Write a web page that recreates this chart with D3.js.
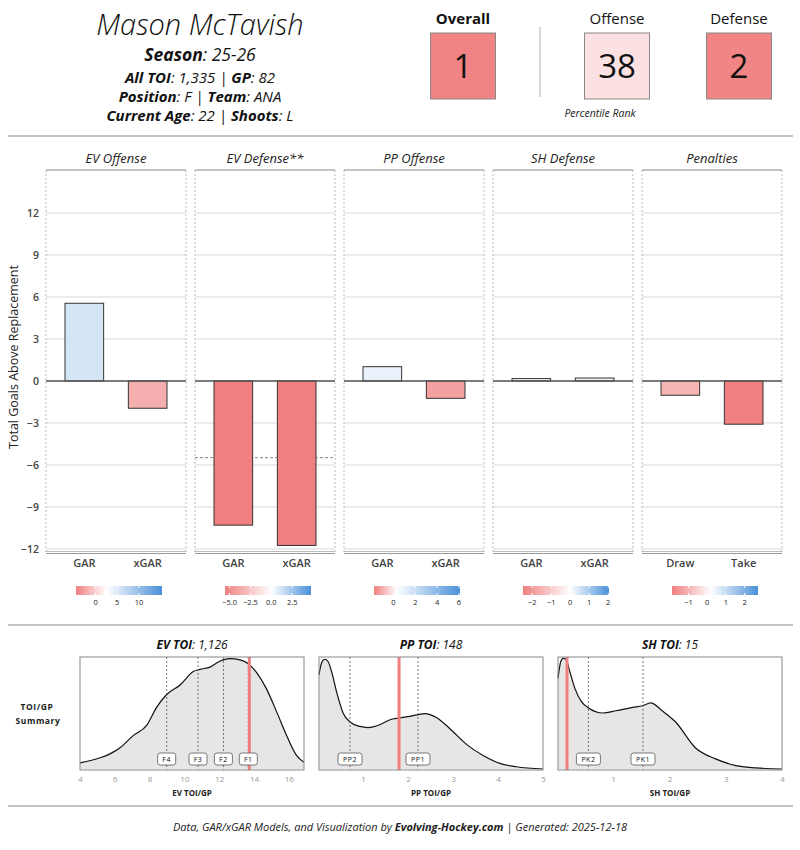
<!DOCTYPE html>
<html>
<head>
<meta charset="utf-8">
<script src="https://cdn.jsdelivr.net/npm/d3@7"></script>
<style>
  body { margin: 0; background: #fff; }
  svg { font-family: "Open Sans", sans-serif; }
</style>
</head>
<body>
<svg id="chart" width="800" height="850"></svg>
<script>
// ---- header data ----
const playerName = "Mason McTavish";
const infoLines = [
  [["Season", ": 25-26"]],
  [["All TOI", ": 1,335"], ["GP", ": 82"]],
  [["Position", ": F"], ["Team", ": ANA"]],
  [["Current Age", ": 22"], ["Shoots", ": L"]]
];
const rankLabels = ["Overall", "Offense", "Defense"];
const rankValues = [1, 38, 2];

// ---- GAR panels ----
const panels = ["EV Offense", "EV Defense**", "PP Offense", "SH Defense", "Penalties"];
const barCats = [["GAR", "xGAR"], ["GAR", "xGAR"], ["GAR", "xGAR"], ["GAR", "xGAR"], ["Draw", "Take"]];
const barValues = [[5.55, -1.95], [-10.3, -11.75], [1.02, -1.24], [0.17, 0.21], [-1.02, -3.09]];
const legendDomains = [[-4.5, 2.5, 15.3], [-5.56, 0, 4.76], [-1.79, 0.3, 6.1], [-2.49, 0, 2.04], [-1.88, 0.2, 2.71]];
const legendTicks = [[0, 5, 10], [-5, -2.5, 0, 2.5], [0, 2, 4, 6], [-2, -1, 0, 1, 2], [-1, 0, 1, 2]];
const yTicks = [-12, -9, -6, -3, 0, 3, 6, 9, 12];
const evDefRef = -5.48;

// ---- TOI density panels ----
const toiTitles = ["EV TOI", "PP TOI", "SH TOI"];
const toiTotals = ["1,126", "148", "15"];
const toiAxisTitles = ["EV TOI/GP", "PP TOI/GP", "SH TOI/GP"];
const toiDomains = [[4, 16.87], [0.02, 5], [0.02, 4]];
const toiTicks = [[4, 6, 8, 10, 12, 14, 16], [1, 2, 3, 4, 5], [1, 2, 3, 4]];
const evX = [4.0, 5.15, 5.72, 6.3, 7.07, 7.83, 8.4, 8.98, 9.75, 10.51, 10.9, 11.47, 12.0, 12.6, 13.2, 13.67, 14.15, 14.7, 15.3, 15.87, 16.45, 16.87];
const evD = [0.054, 0.10, 0.135, 0.19, 0.30, 0.39, 0.55, 0.665, 0.75, 0.87, 0.89, 0.91, 0.96, 0.985, 0.975, 0.94, 0.86, 0.72, 0.51, 0.30, 0.12, 0.06];
const ppX = [0.02, 0.08, 0.15, 0.22, 0.3, 0.41, 0.56, 0.71, 0.93, 1.11, 1.37, 1.6, 1.8, 2.04, 2.37, 2.63, 2.93, 3.3, 3.67, 4.04, 4.41, 5.0];
const ppD = [0.84, 0.95, 0.98, 0.96, 0.87, 0.69, 0.495, 0.42, 0.38, 0.37, 0.395, 0.44, 0.455, 0.47, 0.495, 0.46, 0.36, 0.22, 0.12, 0.05, 0.02, 0.0];
const shX = [0.02, 0.07, 0.12, 0.17, 0.23, 0.32, 0.44, 0.55, 0.82, 1.05, 1.35, 1.52, 1.67, 1.87, 2.11, 2.46, 2.82, 3.18, 3.54, 4.0];
const shD = [0.81, 0.96, 0.99, 0.97, 0.87, 0.72, 0.60, 0.55, 0.50, 0.52, 0.55, 0.565, 0.59, 0.52, 0.42, 0.19, 0.09, 0.03, 0.01, 0.0];
const toiMarkerNames = [["F4", "F3", "F2", "F1"], ["PP2", "PP1"], ["PK2", "PK1"]];
const toiMarkerValues = [[8.98, 10.78, 12.24, 13.67], [0.71, 2.22], [0.56, 1.53]];
const playerToiGp = [13.73, 1.80, 0.18];

const RED = "#f08080", BLUE = "#4a90d9";
const svg = d3.select("#chart");

// mixed bold / regular italic text
function richText(g, x, y, parts, size, sep) {
  const t = g.append("text").attr("x", x).attr("y", y).attr("text-anchor", "middle")
    .style("font-size", size + "px").style("font-style", "italic").attr("fill", "#111");
  parts.forEach((p, i) => {
    if (i > 0) t.append("tspan").text(sep);
    t.append("tspan").style("font-weight", "700").text(p[0]);
    t.append("tspan").text(p[1]);
  });
  return t;
}

// ---------------- header ----------------
svg.append("text").attr("x", 200).attr("y", 35).attr("text-anchor", "middle")
  .style("font-size", "29px").style("font-style", "italic").style("font-weight", 300)
  .attr("fill", "#111").text(playerName);
richText(svg, 200, 61, infoLines[0], 17.5, "");
[83, 102, 121].forEach((y, i) => richText(svg, 200, y, infoLines[i + 1], 15, " | "));

const rankColor = d3.scaleLinear().domain([0, 50, 100]).range([RED, "#ffffff", BLUE]);
// Overall sits apart from the other two
const rankPos = d => d === "Overall" ? 463 : (d === "Offense" ? 617 : 739);
rankLabels.forEach((lab, i) => {
  const cx = rankPos(lab);
  svg.append("text").attr("x", cx).attr("y", 24).attr("text-anchor", "middle")
    .style("font-size", "15px").style("font-weight", i === 0 ? 700 : 400).attr("fill", "#111").text(lab);
  svg.append("rect").attr("x", cx - 32.5).attr("y", 33).attr("width", 65).attr("height", 66)
    .attr("fill", rankColor(rankValues[i])).attr("stroke", "#888").attr("stroke-width", 1);
  svg.append("text").attr("x", cx).attr("y", 78).attr("text-anchor", "middle")
    .style("font-size", "33px").attr("fill", "#111").text(rankValues[i]);
});
svg.append("line").attr("x1", 540).attr("x2", 540).attr("y1", 27).attr("y2", 97)
  .attr("stroke", "#ccc").attr("stroke-width", 1.5);
svg.append("text").attr("x", 600).attr("y", 117).attr("text-anchor", "middle")
  .style("font-size", "10.5px").style("font-style", "italic").attr("fill", "#222").text("Percentile Rank");

[136, 625, 806].forEach(y => svg.append("line").attr("x1", 8).attr("x2", 793).attr("y1", y).attr("y2", y)
  .attr("stroke", "#888").attr("stroke-width", 1));

// ---------------- GAR panels ----------------
const panelX = d3.scaleBand().domain(panels).range([46, 782]).paddingInner(0.0605);
const y = d3.scaleLinear().domain([-12.29, 15.07]).range([553, 170]);
const pw = panelX.bandwidth();
const defs = svg.append("defs");

// y axis labels
const yAxis = svg.append("g").attr("transform", "translate(43,0)")
  .call(d3.axisLeft(y).tickValues(yTicks).tickSize(0).tickPadding(4));
yAxis.select(".domain").remove();
yAxis.selectAll("text").style("font-size", "10.5px").style("font-weight", 600)
  .style("font-family", "Open Sans").attr("fill", "#444");
svg.append("text").attr("transform", "translate(18,357) rotate(-90)").attr("text-anchor", "middle")
  .style("font-size", "12.5px").attr("fill", "#222").text("Total Goals Above Replacement");

panels.forEach((name, i) => {
  const x0 = panelX(name);
  const g = svg.append("g").attr("transform", `translate(${x0},0)`);
  const colorScale = d3.scaleLinear().domain(legendDomains[i]).range([RED, "#ffffff", BLUE]).clamp(true);

  g.selectAll(".grid").data(yTicks).enter().append("line")
    .attr("x1", 0).attr("x2", pw).attr("y1", d => y(d)).attr("y2", d => y(d))
    .attr("stroke", "#d9d9d9").attr("stroke-width", 1);
  [0, pw].forEach(xx => g.append("line").attr("x1", xx).attr("x2", xx).attr("y1", 170).attr("y2", 552)
    .attr("stroke", "#bbb").attr("stroke-dasharray", "2,2"));
  g.append("line").attr("x1", 0).attr("x2", pw).attr("y1", 170).attr("y2", 170).attr("stroke", "#888");
  g.append("line").attr("x1", 0).attr("x2", pw).attr("y1", 551.5).attr("y2", 551.5).attr("stroke", "#bbb");
  g.append("line").attr("x1", 0).attr("x2", pw).attr("y1", 553.5).attr("y2", 553.5).attr("stroke", "#999");
  g.append("text").attr("x", pw / 2).attr("y", 163).attr("text-anchor", "middle")
    .style("font-size", "13px").style("font-style", "italic").attr("fill", "#222").text(name);

  if (i === 1) {
    g.append("line").attr("x1", 0).attr("x2", pw).attr("y1", y(evDefRef)).attr("y2", y(evDefRef))
      .attr("stroke", "#888").attr("stroke-dasharray", "3,2");
  }

  const bx = d3.scaleBand().domain(barCats[i]).range([0, pw]).paddingInner(0.39).paddingOuter(0.3);
  const bars = barCats[i].map((c, j) => ({ c, v: barValues[i][j] }));
  g.selectAll(".bar").data(bars).enter().append("rect")
    .attr("x", d => bx(d.c)).attr("width", bx.bandwidth())
    .attr("y", d => y(Math.max(0, d.v))).attr("height", d => Math.abs(y(d.v) - y(0)))
    .attr("fill", d => colorScale(d.v)).attr("stroke", "#333").attr("stroke-width", 1);
  g.append("line").attr("x1", 0).attr("x2", pw).attr("y1", y(0)).attr("y2", y(0))
    .attr("stroke", "#555").attr("stroke-width", 1.5);
  g.selectAll(".xl").data(barCats[i]).enter().append("text")
    .attr("x", d => bx(d) + bx.bandwidth() / 2).attr("y", 567).attr("text-anchor", "middle")
    .style("font-size", "11px").style("font-weight", 600).attr("fill", "#444").text(d => d);

  // legend
  const dom = legendDomains[i];
  const lx = d3.scaleLinear().domain([dom[0], dom[2]]).range([pw / 2 - 40, pw / 2 + 46]);
  const grad = defs.append("linearGradient").attr("id", "lg" + i);
  dom.forEach(v => grad.append("stop").attr("offset", (v - dom[0]) / (dom[2] - dom[0]))
    .attr("stop-color", colorScale(v)));
  g.append("rect").attr("x", lx(dom[0])).attr("y", 586).attr("width", lx(dom[2]) - lx(dom[0]))
    .attr("height", 9).attr("fill", `url(#lg${i})`);
  legendTicks[i].forEach(t => {
    g.append("line").attr("x1", lx(t)).attr("x2", lx(t)).attr("y1", 586).attr("y2", 588).attr("stroke", "#fff");
    g.append("line").attr("x1", lx(t)).attr("x2", lx(t)).attr("y1", 593).attr("y2", 595).attr("stroke", "#fff");
  });
  g.selectAll(".lt").data(legendTicks[i]).enter().append("text")
    .attr("x", d => lx(d)).attr("y", 605).attr("text-anchor", "middle")
    .style("font-size", "7.5px").attr("fill", "#222").text(d => d3.format(i === 1 ? ".1f" : "d")(d));
});

// ---------------- TOI densities ----------------
const toiBoxes = [[80, 304], [319, 543], [558, 782]];
const toiData = [[evX, evD], [ppX, ppD], [shX, shD]];
const dy = d3.scaleLinear().domain([0, 1]).range([769, 657]);

svg.append("text").attr("x", 37).attr("y", 710).attr("text-anchor", "middle")
  .style("font-size", "8.5px").style("font-weight", 700).style("letter-spacing", "0.6px").attr("fill", "#222").text("TOI/GP");
svg.append("text").attr("x", 38).attr("y", 724).attr("text-anchor", "middle")
  .style("font-size", "8.5px").style("font-weight", 700).style("letter-spacing", "0.6px").attr("fill", "#222").text("Summary");

toiTitles.forEach((title, i) => {
  const [bx0, bx1] = toiBoxes[i];
  const x = d3.scaleLinear().domain(toiDomains[i]).range([bx0, bx1]);
  const g = svg.append("g");
  const pts = toiData[i][0].map((v, j) => [v, toiData[i][1][j]]);

  g.append("path").datum(pts)
    .attr("d", d3.area().x(d => x(d[0])).y0(dy(0)).y1(d => dy(d[1])).curve(d3.curveMonotoneX))
    .attr("fill", "#e6e6e6");
  g.append("path").datum(pts)
    .attr("d", d3.line().x(d => x(d[0])).y(d => dy(d[1])).curve(d3.curveMonotoneX))
    .attr("fill", "none").attr("stroke", "#111").attr("stroke-width", 1.2);

  toiMarkerValues[i].forEach(v => g.append("line").attr("x1", x(v)).attr("x2", x(v))
    .attr("y1", 657).attr("y2", 770).attr("stroke", "#555").attr("stroke-width", 0.8).attr("stroke-dasharray", "2,2"));
  g.append("line").attr("x1", x(playerToiGp[i])).attr("x2", x(playerToiGp[i]))
    .attr("y1", 657).attr("y2", 770).attr("stroke", RED).attr("stroke-width", 3);

  toiMarkerNames[i].forEach((n, j) => {
    const cx = x(toiMarkerValues[i][j]);
    const w = n.length > 2 ? 24 : 18;
    g.append("rect").attr("x", cx - w / 2).attr("y", 753).attr("width", w).attr("height", 12)
      .attr("rx", 2.5).attr("fill", "#fff").attr("stroke", "#555").attr("stroke-width", 0.8);
    g.append("text").attr("x", cx).attr("y", 762).attr("text-anchor", "middle")
      .style("font-size", "7px").style("letter-spacing", "0.5px").attr("fill", "#111").text(n);
  });

  g.append("rect").attr("x", bx0).attr("y", 657).attr("width", bx1 - bx0).attr("height", 113)
    .attr("fill", "none").attr("stroke", "#888").attr("stroke-width", 1);

  const ax = g.append("g").attr("transform", "translate(0,770)")
    .call(d3.axisBottom(x).tickValues(toiTicks[i]).tickSize(0).tickPadding(6).tickFormat(d3.format("d")));
  ax.select(".domain").remove();
  ax.selectAll("text").style("font-size", "8px").style("font-family", "Open Sans").attr("fill", "#999");

  g.append("text").attr("x", (bx0 + bx1) / 2).attr("y", 796).attr("text-anchor", "middle")
    .style("font-size", "8px").style("font-weight", 700).attr("fill", "#222").text(toiAxisTitles[i]);

  richText(g, (bx0 + bx1) / 2, 649, [[title, ": " + toiTotals[i]]], 12, "");
});

// ---------------- footer ----------------
const ft = svg.append("text").attr("x", 400).attr("y", 831).attr("text-anchor", "middle")
  .style("font-size", "11px").style("font-style", "italic").attr("fill", "#222");
ft.append("tspan").text("Data, GAR/xGAR Models, and Visualization by ");
ft.append("tspan").style("font-weight", 700).text("Evolving-Hockey.com");
ft.append("tspan").text(" | Generated: 2025-12-18");
</script>
</body>
</html>
